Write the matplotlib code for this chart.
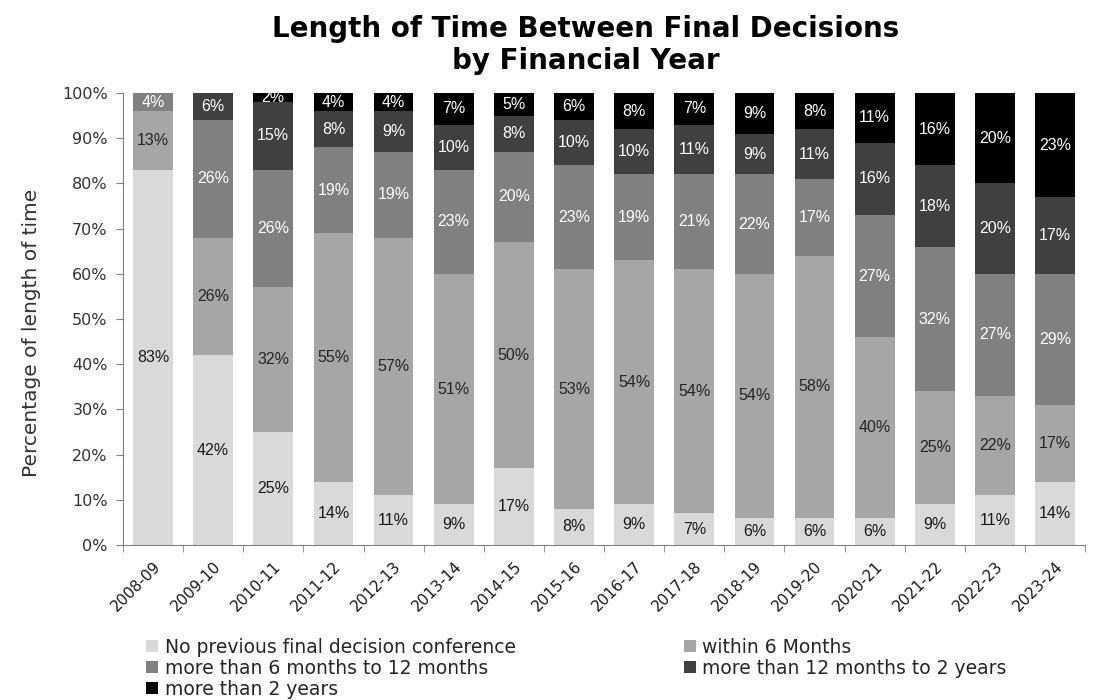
import matplotlib
matplotlib.use("Agg")
import matplotlib.pyplot as plt
from matplotlib.patches import Patch
import numpy as np

years = ["2008-09", "2009-10", "2010-11", "2011-12", "2012-13", "2013-14", "2014-15",
         "2015-16", "2016-17", "2017-18", "2018-19", "2019-20", "2020-21", "2021-22",
         "2022-23", "2023-24"]

no_previous = [83, 42, 25, 14, 11, 9, 17, 8, 9, 7, 6, 6, 6, 9, 11, 14]
within_6m = [13, 26, 32, 55, 57, 51, 50, 53, 54, 54, 54, 58, 40, 25, 22, 17]
m6_to_12m = [4, 26, 26, 19, 19, 23, 20, 23, 19, 21, 22, 17, 27, 32, 27, 29]
m12_to_2y = [0, 6, 15, 8, 9, 10, 8, 10, 10, 11, 9, 11, 16, 18, 20, 17]
over_2y = [0, 0, 2, 4, 4, 7, 5, 6, 8, 7, 9, 8, 11, 16, 20, 23]

series_names = ["No previous final decision conference", "within 6 Months",
                "more than 6 months to 12 months", "more than 12 months to 2 years",
                "more than 2 years"]
series = [no_previous, within_6m, m6_to_12m, m12_to_2y, over_2y]
colors = ["#d9d9d9", "#a6a6a6", "#808080", "#404040", "#000000"]
text_colors = ["#1a1a1a", "#262626", "white", "white", "white"]

fig = plt.figure(figsize=(10.95, 7.0), dpi=100)
ax = fig.add_axes([0.1123, 0.2214, 0.8787, 0.6457])

x = np.arange(len(years))
bottom = np.zeros(len(years))
width = 0.66
for vals, col, tcol in zip(series, colors, text_colors):
    vals = np.array(vals, dtype=float)
    ax.bar(x, vals, width, bottom=bottom, color=col, edgecolor="none")
    for xi, v, b in zip(x, vals, bottom):
        if v > 0:
            ax.text(xi, b + v / 2, f"{int(v)}%", ha="center", va="center",
                    fontsize=11.5, color=tcol, family="Liberation Sans")
    bottom += vals

ax.set_xlim(-0.5, len(years) - 0.5)
ax.set_ylim(0, 100)
ax.set_yticks(np.arange(0, 101, 10))
ax.set_yticklabels([f"{v}%" for v in range(0, 101, 10)])
ax.set_xticks(x)
ax.set_xticklabels(years, rotation=45, ha="right", rotation_mode="anchor")
ax.set_xticks(np.arange(-0.5, len(years), 1), minor=True)
ax.tick_params(axis="x", which="major", length=0, labelsize=11, colors="#1a1a1a", pad=10)
ax.tick_params(axis="x", which="minor", length=5, color="#808080")
ax.tick_params(axis="y", length=5, color="#808080", labelsize=11.5,
               labelcolor="#333333", pad=6)

for s in ["top", "right"]:
    ax.spines[s].set_visible(False)
for s in ["left", "bottom"]:
    ax.spines[s].set_color("#808080")

ax.set_ylabel("Percentage of length of time", fontsize=14.5, color="#333333")
ax.yaxis.set_label_coords(-0.085, 0.47)

fig.suptitle("Length of Time Between Final Decisions\nby Financial Year",
             fontsize=20, fontweight="bold", y=0.978, x=0.535, linespacing=1.15)

# row-major legend: matplotlib fills columns first, so reorder entries
order = [0, 2, 4, 1, 3]
handles = [Patch(facecolor=colors[i], edgecolor="none") for i in order]
labels = [series_names[i] for i in order]
fig.legend(handles, labels, loc="lower left", bbox_to_anchor=(0.118, -0.022),
           ncol=2, frameon=False, fontsize=13.5, handlelength=0.65, handleheight=0.65,
           handletextpad=0.35, columnspacing=8.95, labelspacing=0.1,
           labelcolor="#262626")

fig.savefig("out.png", dpi=100)
